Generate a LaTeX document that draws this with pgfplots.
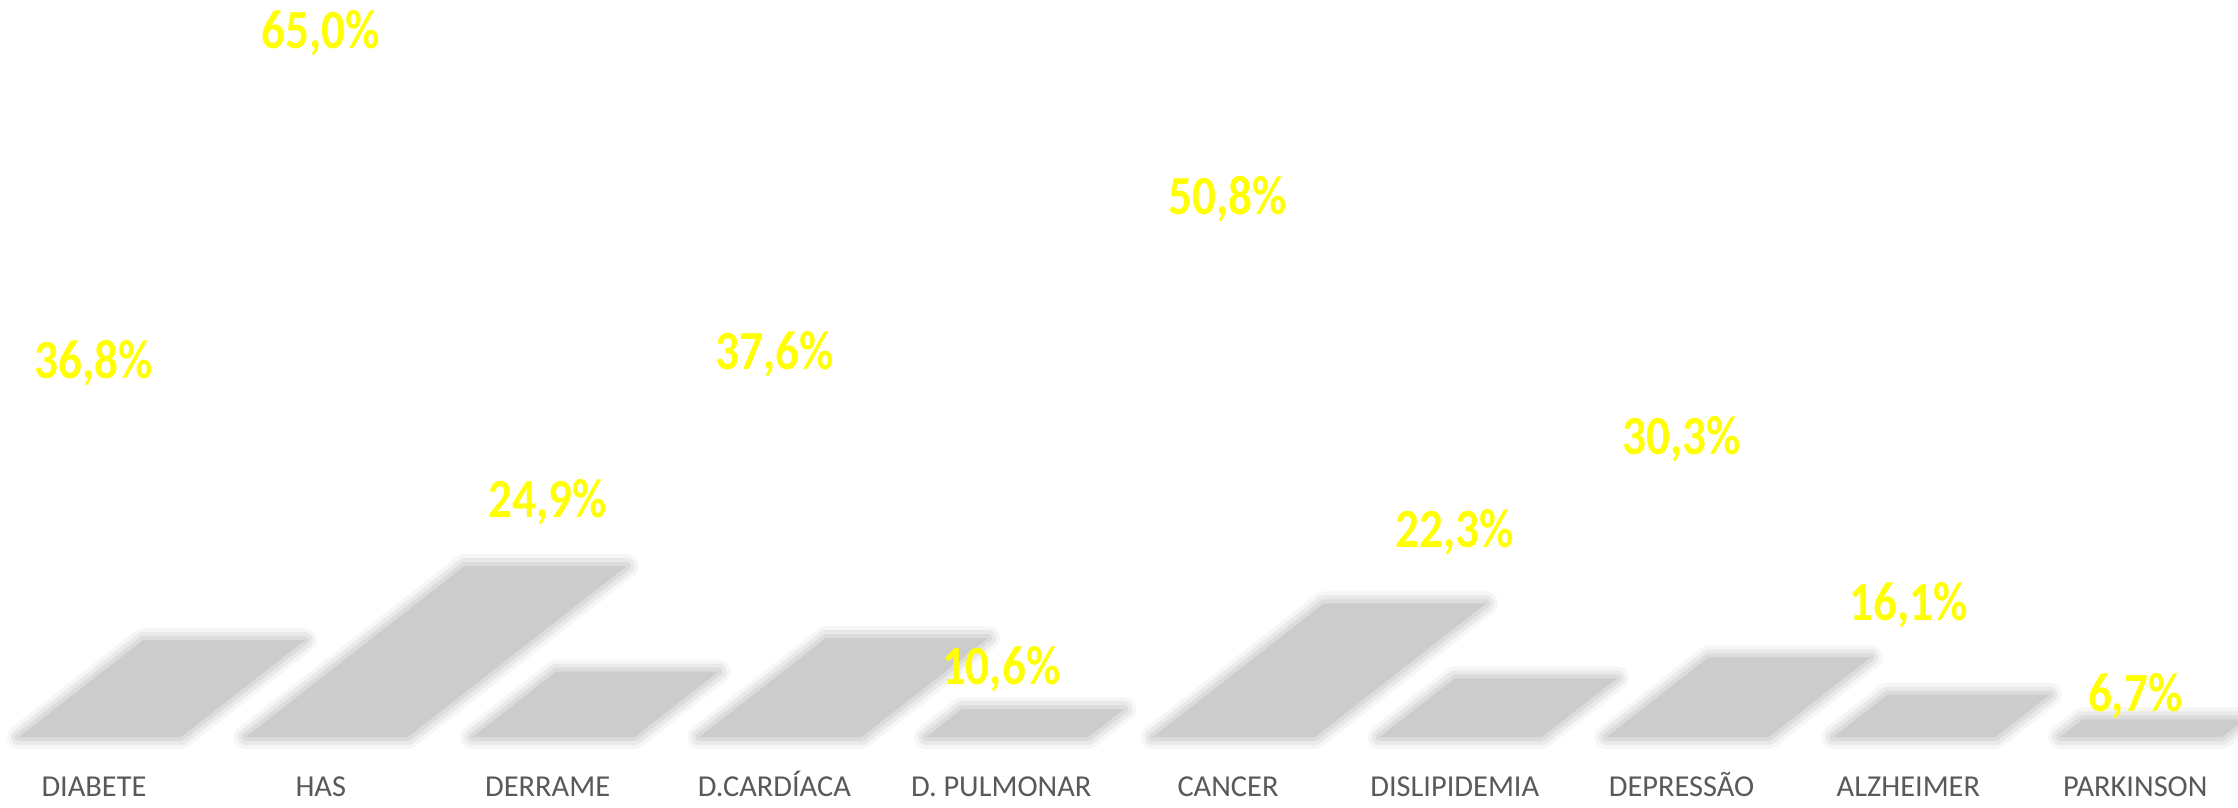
\documentclass[border=0pt]{standalone}
\usepackage{pgfplots}
\pgfplotsset{compat=1.18}
\usepackage{pgfplotstable}
\usepackage{fontspec}
\setmainfont{Carlito}
\definecolor{lbl}{HTML}{FFFF00}
\definecolor{cat}{HTML}{595959}
\definecolor{shd}{HTML}{CCCCCC}

\pgfplotstableread{
x v
0 36.8
1 65.0
2 24.9
3 37.6
4 10.6
5 50.8
6 22.3
7 30.3
8 16.1
9 6.7
}\datatable

\begin{document}
\begin{tikzpicture}
% floor shadows (bars slanted on the floor)
\begin{axis}[
  at={(23.5pt,17.5pt)}, anchor=origin,
  disabledatascaling,
  x={(56.7pt,0pt)}, y={(0pt,0.6575pt)},
  xmin=-0.5, xmax=9.5, ymin=0, ymax=70,
  axis line style={draw=none}, tick style={draw=none},
  ytick=\empty, xtick={0,...,9},
  xticklabels={DIABETE,HAS,DERRAME,D.CARDÍACA,D. PULMONAR,CANCER,DISLIPIDEMIA,DEPRESSÃO,ALZHEIMER,PARKINSON},
  xticklabel style={font=\fontsize{7.6}{9}\selectfont, text=cat, anchor=base, yshift=-14.75pt},
  clip=false,
  shadowbar/.style={ybar, xslant=1.28, bar width=0.715, bar shift=1.5pt, line join=round},
]
\addplot[shadowbar, fill=none, draw=shd, line width=6pt, draw opacity=0.18] table[x=x,y=v]{\datatable};
\addplot[shadowbar, fill=none, draw=shd, line width=4pt, draw opacity=0.3] table[x=x,y=v]{\datatable};
\addplot[shadowbar, fill=none, draw=shd, line width=2pt, draw opacity=0.45] table[x=x,y=v]{\datatable};
\addplot[shadowbar, fill=shd, draw=none] table[x=x,y=v]{\datatable};
\end{axis}
% value labels
\begin{axis}[
  at={(23.5pt,4pt)}, anchor=origin,
  x={(56.7pt,0pt)}, y={(0pt,2.9225pt)},
  xmin=-0.5, xmax=9.5, ymin=0, ymax=66,
  hide axis, clip=false,
]
\addplot[draw=none, mark=none, restrict x to domain=0:8.5,
  nodes near coords={\scalebox{1}[1.17]{\pgfmathprintnumber{\pgfplotspointmeta}\%}},
  every node near coord/.append style={font=\bfseries\fontsize{11.8}{14}\selectfont, text=lbl, anchor=base, yshift=-4.4pt, inner sep=0pt},
  /pgf/number format/.cd, fixed, fixed zerofill, precision=1, use comma, assume math mode=true]
  table[x=x,y=v]{\datatable};
\addplot[draw=none, mark=none, restrict x to domain=8.5:9.5,
  nodes near coords={\scalebox{1}[1.17]{\pgfmathprintnumber{\pgfplotspointmeta}\%}},
  every node near coord/.append style={font=\bfseries\fontsize{11.8}{14}\selectfont, text=lbl, anchor=base, yshift=0.35pt, inner sep=0pt},
  /pgf/number format/.cd, fixed, fixed zerofill, precision=1, use comma, assume math mode=true]
  table[x=x,y=v]{\datatable};
\end{axis}
\pgfresetboundingbox
\path (0,0) rectangle (559.5pt,201.75pt);
\end{tikzpicture}
\end{document}
